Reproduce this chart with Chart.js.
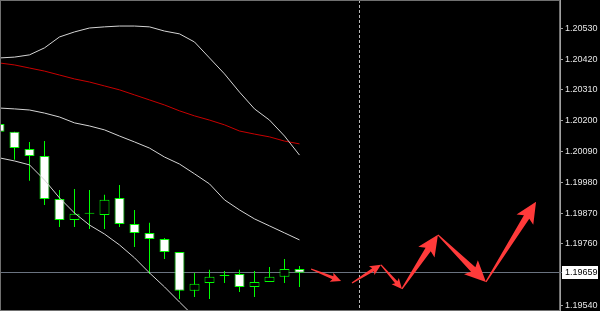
<!DOCTYPE html>
<html>
<head>
<meta charset="utf-8">
<script src="https://cdn.jsdelivr.net/npm/chart.js@4.4.1/dist/chart.umd.min.js"></script>
<style>
  html, body { margin: 0; padding: 0; background: #000; }
  #wrap { width: 600px; height: 311px; }
</style>
</head>
<body>
<div id="wrap"><canvas id="chart"></canvas></div>
<script>
// candles, oldest first (bar index = position in array)
const opens  = [1.20188, 1.20160, 1.20099, 1.20074, 1.19920, 1.19845, 1.19867, 1.19863, 1.19924, 1.19831, 1.19799,
                1.19777, 1.19731, 1.19592, 1.19620, 1.19645, 1.19652, 1.19606, 1.19624, 1.19642, 1.19670];
const highs  = [1.20195, 1.20160, 1.20124, 1.20127, 1.19952, 1.19956, 1.19952, 1.19935, 1.19970, 1.19881, 1.19835,
                1.19781, 1.19731, 1.19656, 1.19667, 1.19663, 1.19667, 1.19663, 1.19677, 1.19706, 1.19681];
const lows   = [1.20150, 1.20060, 1.19985, 1.19899, 1.19820, 1.19820, 1.19813, 1.19813, 1.19820, 1.19749, 1.19652,
                1.19706, 1.19563, 1.19570, 1.19563, 1.19620, 1.19588, 1.19570, 1.19624, 1.19620, 1.19606];
const closes = [1.20160, 1.20102, 1.20074, 1.19920, 1.19845, 1.19867, 1.19867, 1.19917, 1.19831, 1.19799, 1.19777,
                1.19731, 1.19592, 1.19617, 1.19642, 1.19645, 1.19606, 1.19624, 1.19642, 1.19670, 1.19657];

// indicators
const upperBand  = [1.20424, 1.20427, 1.20435, 1.20460, 1.20499, 1.20517, 1.20531, 1.20535, 1.20538, 1.20538, 1.20535,
                    1.20520, 1.20510, 1.20481, 1.20424, 1.20367, 1.20302, 1.20242, 1.20202, 1.20145, 1.20077];
const middleBand = [1.20245, 1.20242, 1.20238, 1.20227, 1.20213, 1.20192, 1.20181, 1.20167, 1.20145, 1.20124, 1.20102,
                    1.20070, 1.20045, 1.20010, 1.19974, 1.19917, 1.19881, 1.19849, 1.19824, 1.19799, 1.19774];
const lowerBand  = [1.20067, 1.20056, 1.20042, 1.19988, 1.19924, 1.19870, 1.19827, 1.19795, 1.19756, 1.19710, 1.19656,
                    1.19606, 1.19552, 1.19499, 1.19490, 1.19467, 1.19460, 1.19456, 1.19446, 1.19453, 1.19471];
const slowMA     = [1.20406, 1.20399, 1.20388, 1.20377, 1.20363, 1.20349, 1.20338, 1.20324, 1.20310, 1.20292, 1.20274,
                    1.20256, 1.20235, 1.20217, 1.20202, 1.20185, 1.20163, 1.20152, 1.20142, 1.20127, 1.20117];

// price axis
const tickValues = [1.19540, 1.19760, 1.19870, 1.19980, 1.20090, 1.20200, 1.20310, 1.20420, 1.20530];
const lastPrice = 1.19659;
const markerBar = 24;

// forecast arrows (bar index / price)
const arrowFromX = [20.77, 23.5, 25.43, 26.83, 29.23, 32.43];
const arrowFromY = [1.19670, 1.19620, 1.19685, 1.19599, 1.19792, 1.19624];
const arrowToX   = [22.77, 25.43, 26.83, 29.23, 32.43, 35.77];
const arrowToY   = [1.19627, 1.19685, 1.19599, 1.19792, 1.19624, 1.19910];

const green = '#00ff00';
const lineGrey = '#d4d4d4';

function series(values) {
    return values.map((v, i) => ({ x: i, y: v }));
}

function drawArrow(ctx, x1, y1, x2, y2) {
    const dx = x2 - x1, dy = y2 - y1;
    const len = Math.hypot(dx, dy);
    const ux = dx / len, uy = dy / len;
    const nx = -uy, ny = ux;
    const head = Math.min(len * 0.32, 21);
    const hw = head * 0.47, sw = head * 0.15;
    const bx = x2 - ux * head, by = y2 - uy * head;
    const back = head * 0.15;
    ctx.beginPath();
    ctx.moveTo(x1 + nx * 0.6, y1 + ny * 0.6);
    ctx.lineTo(bx + ux * back + nx * sw, by + uy * back + ny * sw);
    ctx.lineTo(bx + nx * hw, by + ny * hw);
    ctx.lineTo(x2, y2);
    ctx.lineTo(bx - nx * hw, by - ny * hw);
    ctx.lineTo(bx + ux * back - nx * sw, by + uy * back - ny * sw);
    ctx.lineTo(x1 - nx * 0.6, y1 - ny * 0.6);
    ctx.closePath();
    ctx.fill();
}

const overlay = {
    id: 'overlay',
    beforeDatasetsDraw(chart) {
        const { ctx, chartArea, scales } = chart;
        const py = Math.round(scales.y.getPixelForValue(lastPrice)) + 0.5;
        const px = Math.round(scales.x.getPixelForValue(markerBar)) + 0.5;
        ctx.save();
        ctx.lineWidth = 1;
        ctx.strokeStyle = '#6a7380';
        ctx.beginPath();
        ctx.moveTo(chartArea.left, py);
        ctx.lineTo(chartArea.right + 2, py);
        ctx.stroke();
        ctx.strokeStyle = '#b8b8b8';
        ctx.setLineDash([3, 2]);
        ctx.beginPath();
        ctx.moveTo(px, chartArea.top);
        ctx.lineTo(px, chartArea.bottom);
        ctx.stroke();
        ctx.restore();
    },
    afterDatasetsDraw(chart) {
        const { ctx, chartArea, scales } = chart;
        ctx.save();
        ctx.beginPath();
        ctx.rect(chartArea.left, chartArea.top, chartArea.right - chartArea.left, chartArea.bottom - chartArea.top);
        ctx.clip();
        ctx.fillStyle = '#ff3a3a';
        for (let i = 0; i < arrowFromX.length; i++) {
            drawArrow(ctx,
                scales.x.getPixelForValue(arrowFromX[i]), scales.y.getPixelForValue(arrowFromY[i]),
                scales.x.getPixelForValue(arrowToX[i]), scales.y.getPixelForValue(arrowToY[i]));
        }
        ctx.restore();
    },
    afterDraw(chart) {
        const { ctx, chartArea, scales } = chart;
        ctx.save();
        ctx.strokeStyle = '#707070';
        ctx.lineWidth = 1;
        ctx.strokeRect(chartArea.left + 0.5, chartArea.top + 0.5,
            chartArea.right - chartArea.left - 1, chartArea.bottom - chartArea.top - 1);
        const py = Math.round(scales.y.getPixelForValue(lastPrice));
        ctx.fillStyle = '#ffffff';
        ctx.fillRect(chartArea.right + 2, py - 6, 36, 13);
        ctx.fillStyle = '#000000';
        ctx.font = '9px "Liberation Sans"';
        ctx.textBaseline = 'middle';
        ctx.fillText(lastPrice.toFixed(5), chartArea.right + 5, py + 1);
        ctx.restore();
    }
};

new Chart(document.getElementById('chart'), {
    type: 'bar',
    data: {
        datasets: [
            { type: 'line', data: series(upperBand), borderColor: lineGrey, borderWidth: 1, pointRadius: 0 },
            { type: 'line', data: series(middleBand), borderColor: lineGrey, borderWidth: 1, pointRadius: 0 },
            { type: 'line', data: series(lowerBand), borderColor: lineGrey, borderWidth: 1, pointRadius: 0 },
            { type: 'line', data: series(slowMA), borderColor: '#c80000', borderWidth: 1, pointRadius: 0 },
            {
                data: opens.map((o, i) => ({ x: i, y: [o, closes[i]] })),
                backgroundColor: opens.map((o, i) => closes[i] < o ? '#ffffff' : '#000000'),
                borderColor: green,
                borderWidth: 1,
                borderSkipped: false,
                barThickness: 10,
                minBarLength: 1,
                grouped: false,
                inflateAmount: 0
            },
            {
                data: lows.map((l, i) => ({ x: i, y: [l, highs[i]] })),
                backgroundColor: green,
                borderWidth: 0,
                barThickness: 1,
                grouped: false,
                inflateAmount: 0
            }
        ]
    },
    options: {
        responsive: true,
        maintainAspectRatio: false,
        animation: false,
        layout: { padding: 0 },
        plugins: {
            legend: { display: false },
            tooltip: { enabled: false }
        },
        scales: {
            x: {
                type: 'linear',
                display: false,
                offset: false,
                min: 0.0333,
                max: 37.3667
            },
            y: {
                type: 'linear',
                position: 'right',
                min: 1.19520,
                max: 1.20631,
                afterBuildTicks: s => { s.ticks = tickValues.map(v => ({ value: v })); },
                afterFit: s => { s.width = 40; s.paddingTop = 0; s.paddingBottom = 0; },
                ticks: {
                    color: '#e6e6e6',
                    font: { family: 'Liberation Sans', size: 9 },
                    padding: 2,
                    autoSkip: false,
                    callback: v => v.toFixed(5)
                },
                grid: { drawOnChartArea: false, drawTicks: true, tickLength: 3, color: '#a0a0a0' },
                border: { display: true, color: '#a0a0a0' }
            }
        }
    },
    plugins: [overlay]
});
</script>
</body>
</html>
